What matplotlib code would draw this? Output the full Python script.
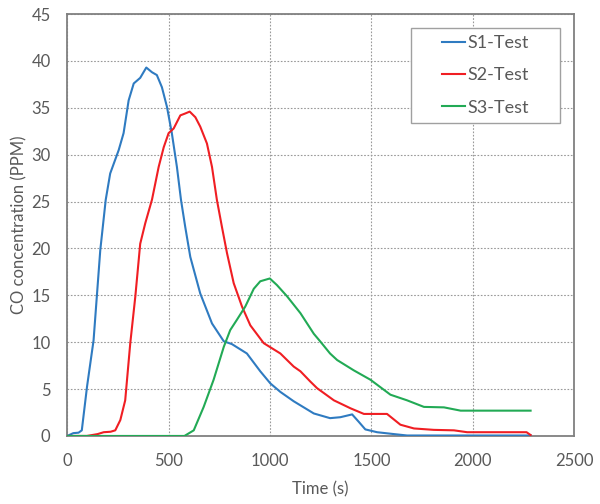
import matplotlib
matplotlib.use('Agg')
import matplotlib.pyplot as plt
from matplotlib.patches import Rectangle

plt.rcParams['font.family'] = ['Lato', 'DejaVu Sans']

# S1-Test
s1_time = [0, 30, 56, 72, 98, 130, 163, 190, 212, 254, 278, 303, 328, 360, 390, 418, 442, 467,
           492, 516, 541, 561, 582, 607, 656, 714, 772, 812, 886, 952, 1002, 1051, 1117, 1216,
           1296, 1347, 1405, 1438, 1470, 1528, 1611, 1676, 2285]
s1_co = [0, 0.3, 0.35, 0.6, 5.3, 10.2, 19.8, 25.2, 28.0, 30.5, 32.3, 35.8, 37.6, 38.2, 39.3, 38.8,
         38.5, 37.2, 35.1, 32.3, 28.7, 25.2, 22.3, 19.1, 15.2, 12.0, 10.1, 9.8, 8.8, 6.9, 5.6, 4.7,
         3.7, 2.4, 1.9, 2.0, 2.3, 1.5, 0.7, 0.4, 0.2, 0.05, 0.05]

# S2-Test
s2_time = [0, 97, 150, 180, 214, 237, 262, 286, 311, 336, 360, 385, 418, 451, 476, 500, 525, 558,
           582, 604, 632, 656, 689, 714, 738, 763, 788, 821, 862, 903, 969, 1051, 1117, 1150, 1199,
           1232, 1315, 1397, 1463, 1577, 1643, 1710, 1808, 1907, 1972, 2265, 2285]
s2_co = [0, 0, 0.2, 0.4, 0.45, 0.6, 1.7, 3.8, 9.9, 14.9, 20.5, 22.7, 25.2, 28.7, 30.8, 32.3, 32.8,
         34.2, 34.4, 34.6, 34.0, 33.0, 31.2, 28.7, 25.2, 22.3, 19.5, 16.3, 13.8, 11.8, 9.9, 8.8,
         7.4, 6.9, 5.8, 5.1, 3.8, 2.95, 2.35, 2.35, 1.2, 0.8, 0.65, 0.6, 0.4, 0.4, 0.1]

# S3-Test
s3_time = [0, 578, 624, 673, 722, 772, 804, 837, 878, 920, 952, 999, 1034, 1084, 1150, 1216, 1249,
           1296, 1331, 1413, 1495, 1594, 1676, 1759, 1858, 1940, 2285]
s3_co = [0, 0, 0.6, 3.1, 6.0, 9.5, 11.3, 12.4, 13.8, 15.7, 16.5, 16.8, 16.1, 14.9, 13.1, 10.9, 10.05,
         8.8, 8.1, 7.0, 6.0, 4.4, 3.8, 3.1, 3.05, 2.7, 2.7]

labels = ['S1-Test', 'S2-Test', 'S3-Test']
colors = ['#2F7BC1', '#F01E23', '#22AA55']
text_color = '#595959'

fig = plt.figure(figsize=(6, 5.04), dpi=100)
ax = fig.add_axes([0.112, 0.135, 0.845, 0.837])

for t, v, lab, c in zip([s1_time, s2_time, s3_time], [s1_co, s2_co, s3_co], labels, colors):
    ax.plot(t, v, color=c, lw=1.5, label=lab, zorder=3)

ax.set_xlim(0, 2500)
ax.set_ylim(0, 45)
ax.set_xticks(range(0, 2501, 500))
ax.set_yticks(range(0, 46, 5))
ax.grid(True, linestyle=(0, (1.5, 1.5)), color='#999999', lw=0.8, zorder=1)
ax.tick_params(length=0, labelsize=12, labelcolor=text_color)
ax.tick_params(axis='x', pad=12)
ax.tick_params(axis='y', pad=12)
for s in ax.spines.values():
    s.set_color('#808080')
    s.set_linewidth(1.3)

ax.set_xlabel('Time (s)', fontsize=12, color=text_color, labelpad=9)
ax.set_ylabel('CO concentration (PPM)', fontsize=12, color=text_color, labelpad=3)

# legend box
box = Rectangle((0.678, 0.742), 0.294, 0.225, transform=ax.transAxes, facecolor='white',
                edgecolor='#A0A0A0', lw=1.0, zorder=4)
ax.add_patch(box)
leg = ax.legend(loc='center', bbox_to_anchor=(0.825, 0.855), frameon=False, fontsize=13,
                handlelength=1.3, handletextpad=0.15, labelspacing=0.9)
leg.set_zorder(5)
for txt in leg.get_texts():
    txt.set_color(text_color)

fig.savefig('out.png', dpi=100)
